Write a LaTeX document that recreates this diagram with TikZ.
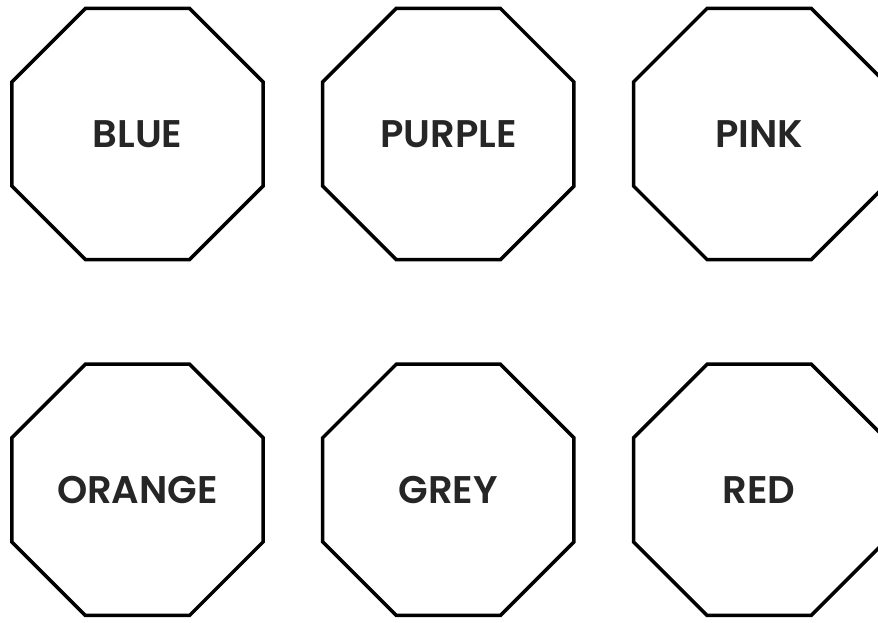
\documentclass[tikz,border=0pt]{standalone}
\usepackage{fontspec}
\setmainfont{Poppins}[BoldFont={Poppins SemiBold}]
\usetikzlibrary{shapes.geometric, positioning}

\tikzset{
    colourbox/.style={draw, regular polygon, regular polygon sides=8, minimum size=272pt,
        line width=3.5pt, font=\fontsize{38.5}{44}\selectfont\bfseries, text=black!85, inner sep=0pt},
}

\begin{document}
\begin{tikzpicture}[x=1pt, y=1pt, node distance=56pt and 56pt]

    \useasboundingbox[fill=white] (0,0) rectangle (878,-622);

    % top row
    \node[colourbox] (blue) at (137.5,-134) {BLUE};
    \node[colourbox, right=of blue] (purple) {PURPLE};
    \node[colourbox, right=of purple] (pink) {PINK};

    % bottom row
    \node[colourbox, below=101pt of blue] (orange) {ORANGE};
    \node[colourbox, right=of orange] (grey) {GREY};
    \node[colourbox, right=of grey] (red) {RED};

\end{tikzpicture}
\end{document}
